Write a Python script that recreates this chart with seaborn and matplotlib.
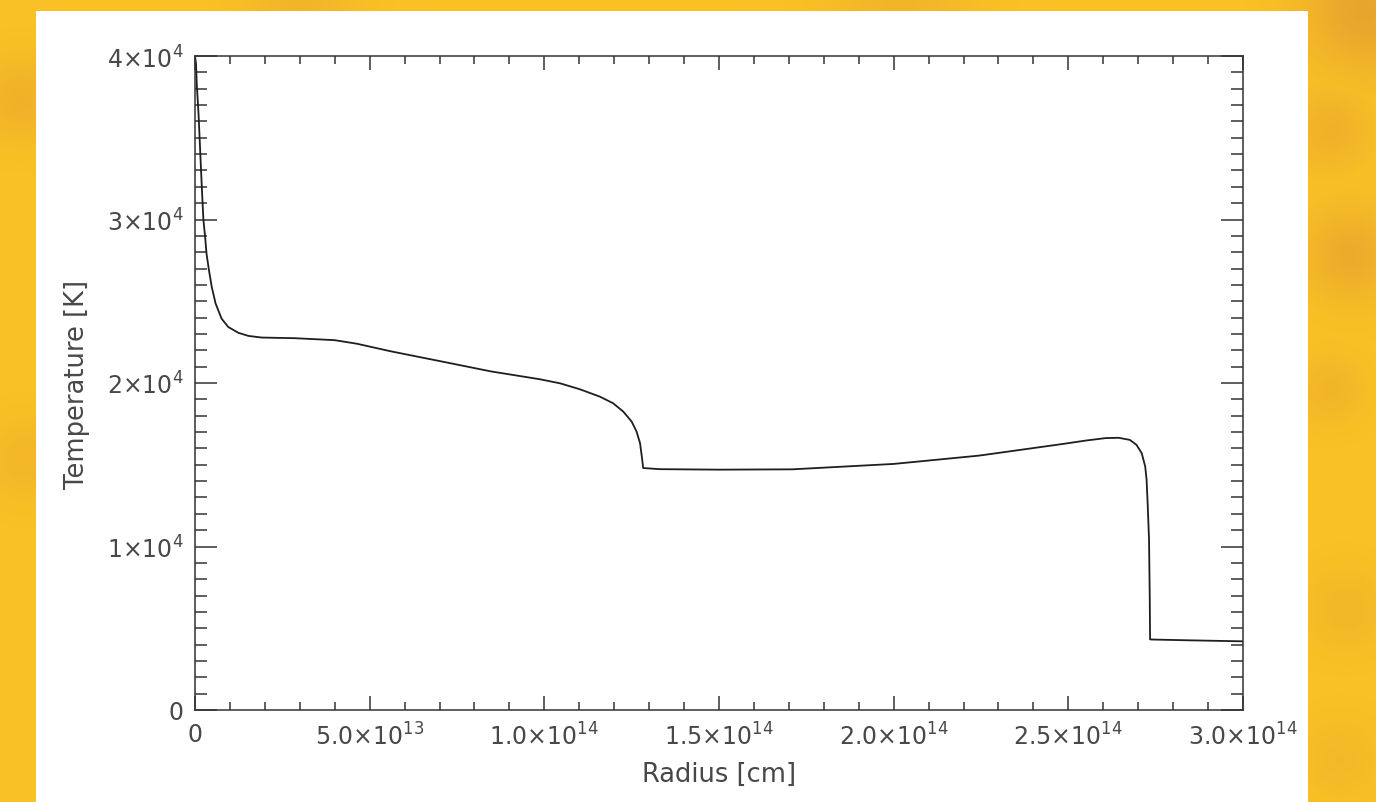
import numpy as np
import pandas as pd
import matplotlib
matplotlib.use("Agg")
import matplotlib.pyplot as plt
import seaborn as sns
from matplotlib.patches import Rectangle
from matplotlib.ticker import FixedLocator, FixedFormatter, MultipleLocator

# ---------------- data ----------------
radius_1e13 = [0.00, 0.03, 0.05, 0.10, 0.14, 0.19, 0.24, 0.29, 0.33, 0.40,
               0.48, 0.59, 0.76, 0.95, 1.24, 1.53, 1.91, 2.86, 4.00, 4.64,
               5.60, 7.03, 8.47, 9.87, 10.45, 11.02, 11.59, 11.97, 12.26, 12.50,
               12.64, 12.74, 12.79, 12.83, 13.30, 15.00, 17.10, 20.00, 22.45, 24.87,
               25.50, 26.07, 26.44, 26.76, 26.95, 27.10, 27.20, 27.24, 27.27, 27.31,
               27.33, 27.34, 27.40, 28.50, 30.00]
temperature_K = [40000, 39500, 38300, 36500, 34600, 32200, 30000, 28920, 27910, 26890,
                 25870, 24860, 23940, 23430, 23070, 22880, 22780, 22740, 22620, 22400,
                 21940, 21330, 20710, 20230, 19980, 19615, 19165, 18760, 18250, 17640,
                 17030, 16320, 15510, 14800, 14730, 14700, 14720, 15050, 15560, 16280,
                 16480, 16630, 16650, 16520, 16220, 15710, 14900, 14085, 12660, 10430,
                 7000, 4320, 4310, 4260, 4200]

x_tick_values = [0, 5e13, 1e14, 1.5e14, 2e14, 2.5e14, 3e14]
x_tick_labels = ["0", r"$5.0{\times}10^{13}$", r"$1.0{\times}10^{14}$", r"$1.5{\times}10^{14}$",
                 r"$2.0{\times}10^{14}$", r"$2.5{\times}10^{14}$", r"$3.0{\times}10^{14}$"]
y_tick_values = [0, 1e4, 2e4, 3e4, 4e4]
y_tick_labels = ["0", r"$1{\times}10^{4}$", r"$2{\times}10^{4}$", r"$3{\times}10^{4}$", r"$4{\times}10^{4}$"]

x_label = "Radius [cm]"
y_label = "Temperature [K]"

df = pd.DataFrame({"radius": np.array(radius_1e13) * 1e13, "T": temperature_K})

# ---------------- style ----------------
sns.set_theme(style="white")
plt.rcParams["font.family"] = ["DejaVu Sans"]
plt.rcParams["mathtext.fontset"] = "dejavusans"

W, H = 1376, 803
fig = plt.figure(figsize=(W / 100, H / 100), dpi=100)

# mottled orange background + white panel
bg = fig.add_axes([0, 0, 1, 1], zorder=-10)
yy, xx = np.mgrid[0:H, 0:W]
base = np.array([0.980, 0.760, 0.145])
dark = np.array([0.890, 0.620, 0.190])
blobs = [(1365, 10, 45, 0.8), (1330, 130, 30, 0.45), (1350, 255, 35, 0.6),
         (20, 100, 30, 0.45), (1330, 390, 25, 0.35), (25, 460, 30, 0.3),
         (1345, 610, 30, 0.3), (300, 0, 40, 0.35), (900, 0, 50, 0.35),
         (1340, 760, 30, 0.25)]
w = np.zeros((H, W))
for cx, cy, s, a in blobs:
    w = np.maximum(w, a * np.exp(-((xx - cx) ** 2 + (yy - cy) ** 2) / (2.0 * s * s)))
w = w[..., None]
img = base * (1 - w) + dark * w
bg.imshow(img, extent=[0, 1, 0, 1], aspect="auto", origin="upper", zorder=0)
bg.add_patch(Rectangle((36 / W, 0), (1308 - 36) / W, (H - 12) / H,
                       transform=bg.transAxes, facecolor="white", edgecolor="none", zorder=5))
bg.set_xlim(0, 1)
bg.set_ylim(0, 1)
bg.axis("off")

# main axes
L, R, T, B = 195, 1243, 57, 711
ax = fig.add_axes([L / W, 1 - B / H, (R - L) / W, (B - T) / H])
ax.set_facecolor("white")

sns.lineplot(data=df, x="radius", y="T", ax=ax, color="#1e1e1e", linewidth=1.3,
             estimator=None, sort=False)

ax.set_xlim(0, 3e14)
ax.set_ylim(0, 4e4)

ax.xaxis.set_major_locator(FixedLocator(x_tick_values))
ax.xaxis.set_major_formatter(FixedFormatter(x_tick_labels))
ax.xaxis.set_minor_locator(MultipleLocator(1e13))
ax.yaxis.set_major_locator(FixedLocator(y_tick_values))
ax.yaxis.set_major_formatter(FixedFormatter(y_tick_labels))
ax.yaxis.set_minor_locator(MultipleLocator(1000))

txt_col = "#484848"
ax.tick_params(which="both", direction="in", top=True, right=True, bottom=True, left=True,
               color="#333333", width=1.1, labelcolor=txt_col, labelsize=17)
ax.tick_params(axis="x", which="major", length=10, pad=9)
ax.tick_params(axis="x", which="minor", length=5.8)
ax.tick_params(axis="y", which="major", length=15.8, pad=8)
ax.tick_params(axis="y", which="minor", length=8.6)

for sp in ax.spines.values():
    sp.set_visible(True)
    sp.set_color("#333333")
    sp.set_linewidth(1.1)

ax.set_xlabel(x_label, fontsize=18.5, color=txt_col)
ax.set_ylabel(y_label, fontsize=18.5, color=txt_col)
ax.xaxis.set_label_coords(0.5, -0.078)
ax.yaxis.set_label_coords(-0.100, 0.5)
ax.xaxis.label.set_va("top")

fig.savefig("out.png", dpi=100)
